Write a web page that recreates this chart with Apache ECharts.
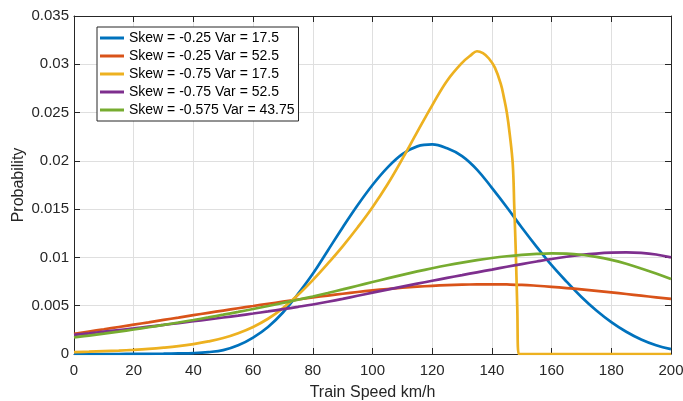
<!DOCTYPE html>
<html>
<head>
<meta charset="utf-8">
<script src="https://cdn.jsdelivr.net/npm/echarts@6/dist/echarts.min.js"></script>
<style>
  html, body { margin: 0; padding: 0; background: #fff; }
  #chart { width: 683px; height: 401px; }
</style>
</head>
<body>
<div id="chart"></div>
<script>
// Train speed grid (km/h) shared by the smooth distributions
const speeds = [0, 5, 10, 15, 20, 25, 30, 35, 40, 45, 50, 55, 60, 65, 70, 75, 80, 85, 90, 95, 100,
  105, 110, 115, 120, 125, 130, 135, 140, 145, 150, 155, 160, 165, 170, 175, 180, 185, 190, 195, 200];

const skew025var175 = [0, 0, 0, 0, 0.00001, 0.00002, 0.00003, 0.00006, 0.0001, 0.0002, 0.0004,
  0.0009, 0.0017, 0.0028, 0.0043, 0.0062, 0.0083, 0.0107, 0.0131, 0.0154, 0.0175,
  0.0193, 0.0207, 0.0215, 0.0217, 0.0213, 0.0205, 0.0191, 0.0172, 0.0152, 0.0131,
  0.0111, 0.0092, 0.0075, 0.0059, 0.0045, 0.0033, 0.0023, 0.0015, 0.0009, 0.0005];

const skew025var525 = [0.00210, 0.00233, 0.00256, 0.00280, 0.00304, 0.00328, 0.00353, 0.00377, 0.00402, 0.00426, 0.00450,
  0.00474, 0.00497, 0.00520, 0.00542, 0.00564, 0.00585, 0.00605, 0.00624, 0.00642, 0.00658,
  0.00673, 0.00686, 0.00697, 0.00706, 0.00713, 0.00718, 0.00721, 0.00722, 0.00720, 0.00716,
  0.00707, 0.00696, 0.00683, 0.00669, 0.00654, 0.00638, 0.00621, 0.00604, 0.00587, 0.00570];

const skew075var525 = [0.00198, 0.00214, 0.00231, 0.00248, 0.00265, 0.00283, 0.00301, 0.00320, 0.00339, 0.00358, 0.00378,
  0.00398, 0.00419, 0.00441, 0.00464, 0.00488, 0.00513, 0.00541, 0.00571, 0.00603, 0.00635,
  0.00666, 0.00697, 0.00728, 0.00758, 0.00788, 0.00817, 0.00846, 0.00874, 0.00903, 0.00931,
  0.00958, 0.00984, 0.01007, 0.01026, 0.01040, 0.01049, 0.01052, 0.01047, 0.01030, 0.01000];

const skew0575var4375 = [0.00172, 0.00191, 0.00211, 0.00232, 0.00254, 0.00277, 0.00301, 0.00326, 0.00352, 0.00379, 0.00407,
  0.00436, 0.00466, 0.00497, 0.00529, 0.00562, 0.00596, 0.00632, 0.00669, 0.00707, 0.00745,
  0.00783, 0.00820, 0.00855, 0.00888, 0.00919, 0.00947, 0.00972, 0.00994, 0.01012, 0.01026,
  0.01036, 0.01041, 0.01039, 0.01028, 0.01006, 0.00974, 0.00934, 0.00886, 0.00833, 0.00776];

// The strongly skewed narrow curve is cut off sharply just below 150 km/h
const speedsSharp = [0, 5, 10, 15, 20, 25, 30, 35, 40, 45, 50, 55, 60, 65, 70, 75, 80, 85, 90, 95, 100,
  105, 110, 115, 120, 125, 130, 133, 135, 137, 139, 141, 143, 144, 145, 146, 147, 147.5, 148, 148.5, 149, 150, 200];
const skew075var175 = [0.00020, 0.00024, 0.00029, 0.00035, 0.00043, 0.00053, 0.00066, 0.00082, 0.00103, 0.00130, 0.00165,
  0.00215, 0.00280, 0.00365, 0.00475, 0.00610, 0.00765, 0.00935, 0.01115, 0.01310, 0.01520,
  0.01755, 0.02020, 0.02300, 0.02575, 0.02830, 0.03015, 0.03095, 0.03135, 0.03115, 0.03060, 0.02965, 0.02795, 0.02660,
  0.02500, 0.02270, 0.01960, 0.01520, 0.01060, 0.00480, 0, 0, 0];

const seriesNames = [
  'Skew = -0.25 Var = 17.5',
  'Skew = -0.25 Var = 52.5',
  'Skew = -0.75 Var = 17.5',
  'Skew = -0.75 Var = 52.5',
  'Skew = -0.575 Var = 43.75'
];
const colors = ['#0072BD', '#D95319', '#EDB120', '#7E2F8E', '#77AC30'];

const xTicks = { min: 0, max: 200, interval: 20 };
const yTicks = { min: 0, max: 0.035, interval: 0.005 };

function pairs(xs, ys) { return xs.map((x, i) => [x, ys[i]]); }

const seriesData = [
  pairs(speeds, skew025var175),
  pairs(speeds, skew025var525),
  pairs(speedsSharp, skew075var175),
  pairs(speeds, skew075var525),
  pairs(speeds, skew0575var4375)
];

const font = '"Liberation Sans", Arial, Helvetica, sans-serif';
const axisColor = '#262626';

const chart = echarts.init(document.getElementById('chart'), null, { renderer: 'canvas' });

const baseAxisLine = { show: true, onZero: false, lineStyle: { color: axisColor, width: 1 } };
const baseTick = { show: true, inside: true, length: 6, lineStyle: { color: axisColor, width: 1 } };

chart.setOption({
  animation: false,
  backgroundColor: '#ffffff',
  color: colors,
  grid: { left: 74, right: 12, top: 16, bottom: 47, containLabel: false, outerBoundsMode: 'none' },
  legend: {
    orient: 'vertical',
    left: 97,
    top: 27,
    padding: [4, 4, 4, 3],
    itemGap: 4,
    itemWidth: 24,
    itemHeight: 3,
    icon: 'rect',
    backgroundColor: '#ffffff',
    borderColor: axisColor,
    borderWidth: 1,
    borderRadius: 0,
    textStyle: { fontFamily: font, fontSize: 14, color: '#000000', lineHeight: 14 },
    data: seriesNames
  },
  xAxis: [
    {
      type: 'value', position: 'bottom', ...xTicks,
      name: 'Train Speed km/h', nameLocation: 'middle', nameGap: 31, nameMoveOverlap: false,
      nameTextStyle: { fontFamily: font, fontSize: 16, color: axisColor },
      axisLine: baseAxisLine, axisTick: baseTick,
      axisLabel: { fontFamily: font, fontSize: 15, color: axisColor, margin: 9 },
      splitLine: { show: true, lineStyle: { color: '#dfdfdf', width: 1 } }
    },
    {
      type: 'value', position: 'top', ...xTicks,
      axisLine: baseAxisLine, axisTick: baseTick,
      axisLabel: { show: false }, splitLine: { show: false }
    }
  ],
  yAxis: [
    {
      type: 'value', position: 'left', ...yTicks,
      name: 'Probability', nameLocation: 'middle', nameGap: 47, nameMoveOverlap: false,
      nameTextStyle: { fontFamily: font, fontSize: 16, color: axisColor },
      axisLine: baseAxisLine, axisTick: baseTick,
      axisLabel: { fontFamily: font, fontSize: 15, color: axisColor, margin: 5 },
      splitLine: { show: true, lineStyle: { color: '#dfdfdf', width: 1 } }
    },
    {
      type: 'value', position: 'right', ...yTicks,
      axisLine: baseAxisLine, axisTick: baseTick,
      axisLabel: { show: false }, splitLine: { show: false }
    }
  ],
  series: seriesData.map((data, i) => ({
    name: seriesNames[i],
    type: 'line',
    xAxisIndex: 0,
    yAxisIndex: 0,
    data: data,
    smooth: 0.4,
    showSymbol: false,
    symbol: 'none',
    clip: true,
    lineStyle: { width: 2.7, color: colors[i] },
    itemStyle: { color: colors[i] },
    z: 3
  }))
});
</script>
</body>
</html>
